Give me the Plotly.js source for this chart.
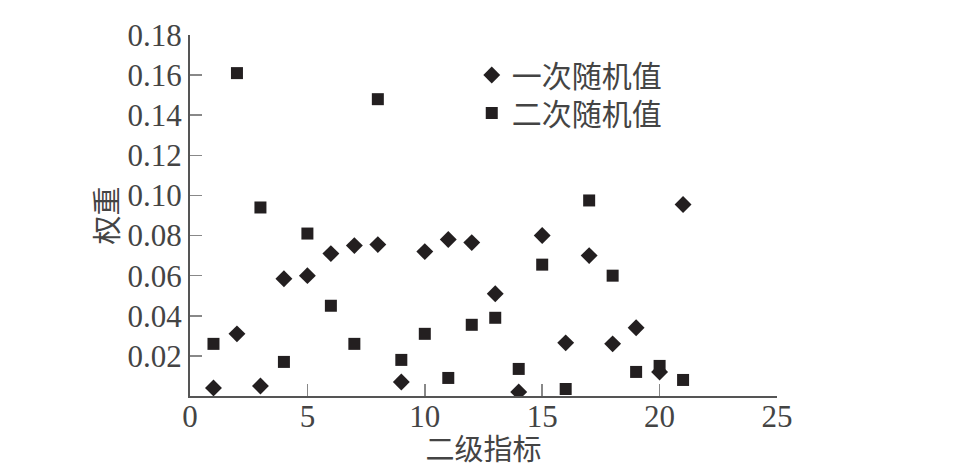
<!DOCTYPE html>
<html>
<head>
<meta charset="utf-8">
<script src="https://cdn.plot.ly/plotly-3.0.1.min.js"></script>
<style>
  body { margin: 0; background: #fff; }
  #chart { width: 960px; height: 470px; }
</style>
</head>
<body>
<div id="chart"></div>
<script>
// 二级指标序号
var indexes = [1, 2, 3, 4, 5, 6, 7, 8, 9, 10, 11, 12, 13, 14, 15, 16, 17, 18, 19, 20, 21];
// 一次随机值
var firstRandom = [0.004, 0.031, 0.005, 0.0585, 0.060, 0.071, 0.075, 0.0755, 0.007, 0.072, 0.078, 0.0765,
  0.051, 0.002, 0.080, 0.0265, 0.070, 0.026, 0.034, 0.012, 0.0955];
// 二次随机值
var secondRandom = [0.026, 0.161, 0.094, 0.017, 0.081, 0.045, 0.026, 0.148, 0.018, 0.031, 0.009, 0.0355,
  0.039, 0.0135, 0.0655, 0.0035, 0.0975, 0.060, 0.012, 0.015, 0.008];
var seriesNames = ["一次随机值", "二次随机值"];
var yTicks = [0.02, 0.04, 0.06, 0.08, 0.10, 0.12, 0.14, 0.16, 0.18];
var xTicks = [0, 5, 10, 15, 20, 25];

var font = "Liberation Serif, Times New Roman, Noto Sans CJK SC, serif";
var ink = "#231f20";
var textColor = "#444";

var data = [
  {
    x: indexes,
    y: firstRandom,
    name: seriesNames[0],
    type: "scatter",
    mode: "markers",
    legend: "legend",
    marker: { symbol: "diamond", size: 13, color: ink }
  },
  {
    x: indexes,
    y: secondRandom,
    name: seriesNames[1],
    type: "scatter",
    mode: "markers",
    legend: "legend2",
    marker: { symbol: "square", size: 12, color: ink }
  }
];

// one legend per row so the spacing can match the original
function legendAt(y) {
  return {
    x: 0.48, y: y, xanchor: "left", yanchor: "middle",
    bgcolor: "rgba(0,0,0,0)",
    font: { family: font, size: 30, color: textColor }
  };
}

var layout = {
  width: 960,
  height: 470,
  margin: { l: 190, r: 183, t: 35, b: 74 },
  paper_bgcolor: "#fff",
  plot_bgcolor: "#fff",
  font: { family: font, size: 30, color: "#333" },
  showlegend: true,
  legend: legendAt(0.889),
  legend2: legendAt(0.784),
  xaxis: {
    range: [0, 25],
    tickvals: xTicks,
    ticks: "inside",
    ticklen: 12,
    tickwidth: 1.5,
    tickcolor: "#888",
    ticklabelstandoff: -8,
    showline: true,
    linecolor: "#555",
    linewidth: 2,
    showgrid: false,
    zeroline: false,
    tickfont: { family: font, size: 31, color: textColor },
    title: { text: "二级指标", font: { family: font, size: 29, color: textColor }, standoff: 6 }
  },
  yaxis: {
    range: [0, 0.18],
    tickvals: yTicks,
    tickformat: ".2f",
    ticks: "inside",
    ticklen: 12,
    tickwidth: 1.5,
    tickcolor: "#888",
    showline: true,
    linecolor: "#555",
    linewidth: 2,
    showgrid: false,
    zeroline: false,
    tickfont: { family: font, size: 31, color: textColor },
    title: { text: "权重", font: { family: font, size: 29, color: textColor }, standoff: 0 }
  }
};

Plotly.newPlot("chart", data, layout, { staticPlot: true });
</script>
</body>
</html>
